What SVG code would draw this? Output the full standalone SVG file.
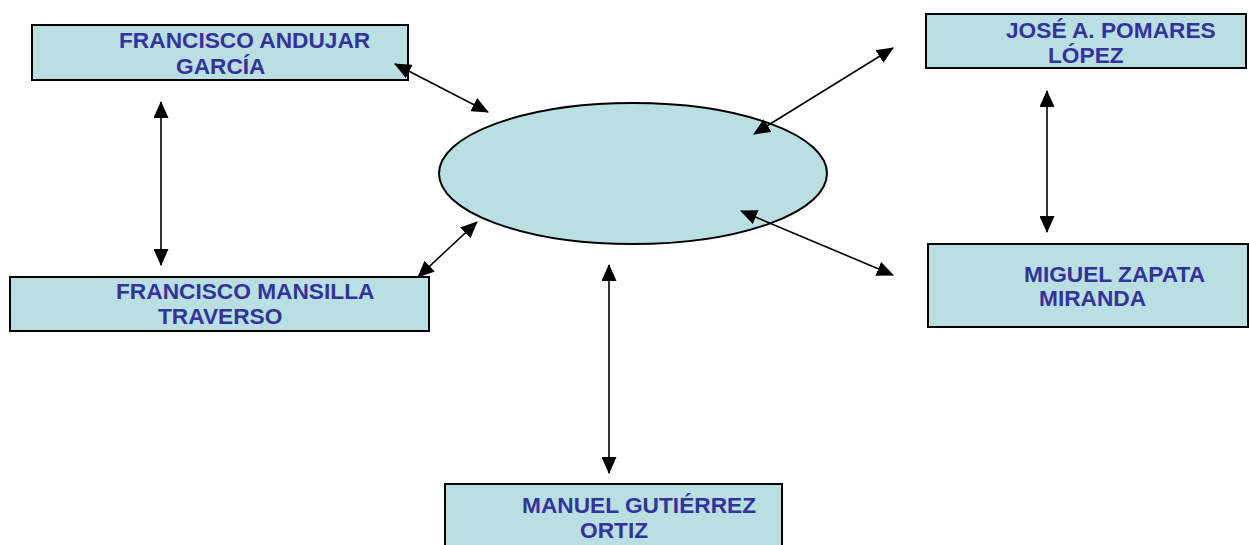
<svg xmlns="http://www.w3.org/2000/svg" width="1249" height="545" viewBox="0 0 1249 545">
<style>
.box{fill:#B9DFE2;stroke:#000;stroke-width:2}
.lbl{font-family:"Liberation Sans",Arial,sans-serif;font-weight:bold;font-size:22.7px;fill:#333399}
.con{stroke:#000;stroke-width:1.6;fill:none;marker-start:url(#ah);marker-end:url(#ah)}
</style>
<defs>
<marker id="ah" markerUnits="userSpaceOnUse" markerWidth="17" markerHeight="15" refX="16" refY="7.5" orient="auto-start-reverse">
<path d="M0,0 L17,7.5 L0,15 Z" fill="#000"/>
</marker>
</defs>
<rect width="1249" height="545" fill="#fff"/>
<g id="center">
<ellipse cx="633" cy="173.5" rx="194" ry="70.5" fill="#B9DFE2" stroke="#000" stroke-width="2"/>
</g>
<g id="andujar">
<rect class="box" x="32" y="25" width="376" height="55"/>
<text class="lbl" x="119" y="48">FRANCISCO ANDUJAR</text>
<text class="lbl" x="176" y="74">GARCÍA</text>
</g>
<g id="pomares">
<rect class="box" x="926" y="14" width="320" height="54"/>
<text class="lbl" x="1006" y="38">JOSÉ A. POMARES</text>
<text class="lbl" x="1048" y="63">LÓPEZ</text>
</g>
<g id="mansilla">
<rect class="box" x="10" y="277" width="419" height="54"/>
<text class="lbl" x="116" y="299">FRANCISCO MANSILLA</text>
<text class="lbl" x="158" y="324">TRAVERSO</text>
</g>
<g id="zapata">
<rect class="box" x="928" y="244" width="320" height="83"/>
<text class="lbl" x="1024" y="282">MIGUEL ZAPATA</text>
<text class="lbl" x="1039" y="306">MIRANDA</text>
</g>
<g id="gutierrez">
<rect class="box" x="445" y="484" width="337" height="80"/>
<text class="lbl" x="522" y="513">MANUEL GUTIÉRREZ</text>
<text class="lbl" x="580" y="538">ORTIZ</text>
</g>
<g id="connectors">
<line class="con" x1="395" y1="64" x2="488" y2="112"/>
<line class="con" x1="161" y1="102" x2="161" y2="265"/>
<line class="con" x1="418" y1="277" x2="477" y2="222"/>
<line class="con" x1="893" y1="48" x2="754" y2="134"/>
<line class="con" x1="1047" y1="91" x2="1047" y2="232"/>
<line class="con" x1="741" y1="211" x2="893" y2="275"/>
<line class="con" x1="609" y1="265" x2="609" y2="473"/>
</g>
</svg>
